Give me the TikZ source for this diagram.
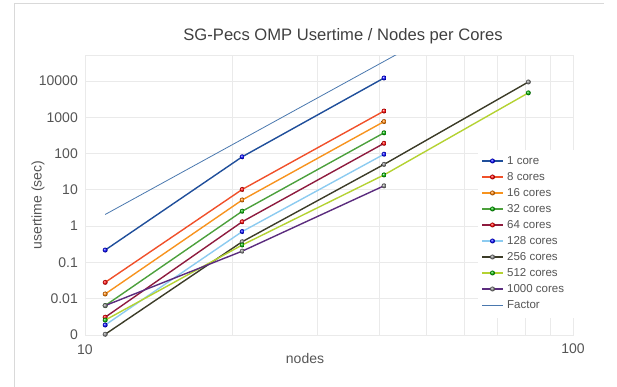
\documentclass[tikz,border=0pt]{standalone}
\usepackage{fontspec}
\setmainfont{Liberation Sans}
\usepackage{xcolor}
\usepackage{tikz}
\usetikzlibrary{plotmarks, positioning}

\definecolor{gridgray}{HTML}{EAEAEA}
\definecolor{txtgray}{HTML}{555555}
\definecolor{coreone}{HTML}{1F4E9A}
\definecolor{coreeight}{HTML}{F0502A}
\definecolor{coresixteen}{HTML}{F7931E}
\definecolor{corethirtytwo}{HTML}{4CA03C}
\definecolor{coresixtyfour}{HTML}{8E1B3E}
\definecolor{coreonetwoeight}{HTML}{8CCBF0}
\definecolor{coretwofivesix}{HTML}{3C3C28}
\definecolor{corefivetwelve}{HTML}{B4D232}
\definecolor{corethousand}{HTML}{5B2C7E}
\definecolor{factorline}{HTML}{4A78AE}

\begin{document}
\begin{tikzpicture}[x=1pt, y=1pt]
    % Styles
    \tikzstyle{gridline} = [draw=gridgray, line width=0.6pt]
    \tikzstyle{ticklabel} = [font=\fontsize{14}{16}\selectfont, text=txtgray, inner sep=0pt]
    \tikzstyle{series} = [line width=1.4pt, mark=ball, mark size=2.5pt]
    \tikzstyle{legtext} = [font=\fontsize{11.5}{13}\selectfont, text=txtgray, anchor=west, inner sep=0pt]

    \useasboundingbox (0,0) rectangle (617,387);
    \draw[draw=black!15, line width=0.8pt] (14,0) -- (14,384) -- (604,384);

    % Title and axis titles
    \node[font=\fontsize{16.6}{20}\selectfont, text=black!75] (title) at (343,351) {SG-Pecs OMP Usertime / Nodes per Cores};
    \node[ticklabel] (xtitle) at (305,29) {nodes};
    \node[ticklabel, rotate=90] (ytitle) at (38,182) {usertime (sec)};
    \node[ticklabel] (xten) at (85,37) {10};
    \node[ticklabel] (xhundred) at (573,38) {100};

    % Plot area: x = log10(nodes)-1, y = log10(sec)+3
    \begin{scope}[shift={(85pt,52pt)}, x=488pt, y=36.3pt]
        \foreach \k in {0,...,7}
            \draw[gridline] (0,\k) -- (1,\k);
        \foreach \n in {20,30,...,90}
            \draw[gridline] ({log10(\n)-1},0) -- ({log10(\n)-1},7.713);
        \draw[gridline] (0,0) rectangle (1,7.713);
        \foreach \k/\lab in {0/0, 1/0.01, 2/0.1, 3/1, 4/10, 5/100, 6/1000, 7/10000}
            \node[ticklabel, anchor=east] (ytick\k) at ([xshift=-7pt]0,\k) {\lab};

        % Series
        \draw[series, coreone, mark options={ball color=blue}] plot coordinates {(0.0414,2.34) (0.3222,4.91) (0.6128,7.08)};
        \draw[series, coreeight, mark options={ball color=red}] plot coordinates {(0.0414,1.45) (0.3222,4.01) (0.6128,6.17)};
        \draw[series, coresixteen, mark options={ball color=orange}] plot coordinates {(0.0414,1.13) (0.3222,3.72) (0.6128,5.88)};
        \draw[series, corethirtytwo, mark options={ball color=green!70!black}] plot coordinates {(0.0414,0.81) (0.3222,3.41) (0.6128,5.57)};
        \draw[series, coresixtyfour, mark options={ball color=red}] plot coordinates {(0.0414,0.49) (0.3222,3.12) (0.6128,5.28)};
        \draw[series, coreonetwoeight, mark options={ball color=blue}] plot coordinates {(0.0414,0.275) (0.3222,2.85) (0.6128,4.98)};
        \draw[series, coretwofivesix, mark options={ball color=gray}] plot coordinates {(0.0414,0.02) (0.3222,2.57) (0.6128,4.70) (0.9085,6.97)};
        \draw[series, corefivetwelve, mark options={ball color=green!70!black}] plot coordinates {(0.0414,0.41) (0.3222,2.48) (0.6128,4.41) (0.9085,6.67)};
        \draw[series, corethousand, mark options={ball color=gray}] plot coordinates {(0.0414,0.81) (0.3222,2.31) (0.6128,4.11)};
        \begin{scope}
            \clip (0,0) rectangle (1,7.713);
            \draw[factorline, line width=0.8pt] (0.0414,3.32) -- (0.9085,9.72);
        \end{scope}
    \end{scope}

    % Legend
    \fill[white] (478,69) rectangle (574,237);
    \foreach \i/\lc/\bc/\txt in {0/coreone/blue/1 core, 1/coreeight/red/8 cores, 2/coresixteen/orange/16 cores,
        3/corethirtytwo/green!70!black/32 cores, 4/coresixtyfour/red/64 cores, 5/coreonetwoeight/blue/128 cores,
        6/coretwofivesix/gray/256 cores, 7/corefivetwelve/green!70!black/512 cores, 8/corethousand/gray/1000 cores}
    {
        \draw[\lc, line width=1.4pt] (482,226-16*\i) -- (503,226-16*\i);
        \shade[ball color=\bc] (492.5,226-16*\i) circle (2.5pt);
        \node[legtext] (leg\i) at (507,226-16*\i) {\txt};
    }
    \draw[factorline, line width=0.8pt] (482,82) -- (503,82);
    \node[legtext] (legfactor) at (507,82) {Factor};
\end{tikzpicture}
\end{document}
